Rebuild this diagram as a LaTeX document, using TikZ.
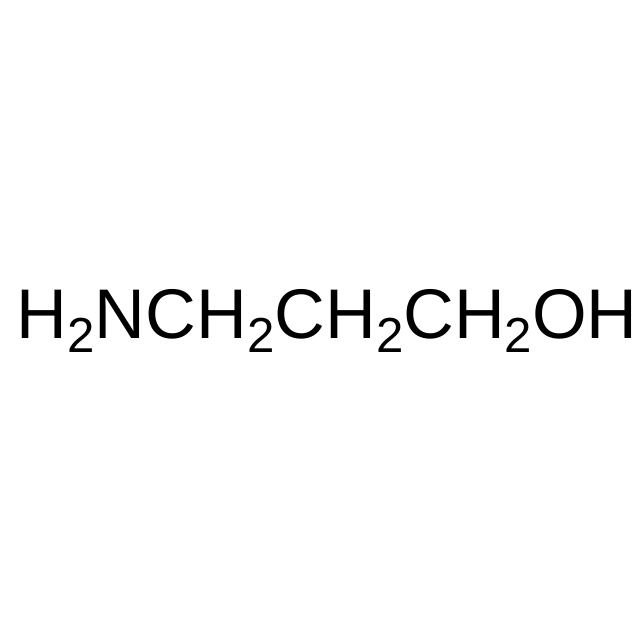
\documentclass[tikz,border=0pt]{standalone}
\usepackage{fontspec}
\setmainfont{Liberation Sans}
\usepackage{tikz}

% subscript digit
\newcommand{\chsub}[1]{\raisebox{-0.2em}{\fontsize{14}{15}\selectfont #1}}

\begin{document}
\begin{tikzpicture}
% canvas, 1px = 0.01cm
\useasboundingbox[fill=white] (0,0) rectangle (6.4,6.4);

% formula
\node[anchor=base west, inner sep=0pt, font=\fontsize{20}{22}\selectfont] (formula) at (0.16,3.02)
  {H\chsub{2}NCH\chsub{2}CH\chsub{2}CH\chsub{2}OH};
\end{tikzpicture}
\end{document}
